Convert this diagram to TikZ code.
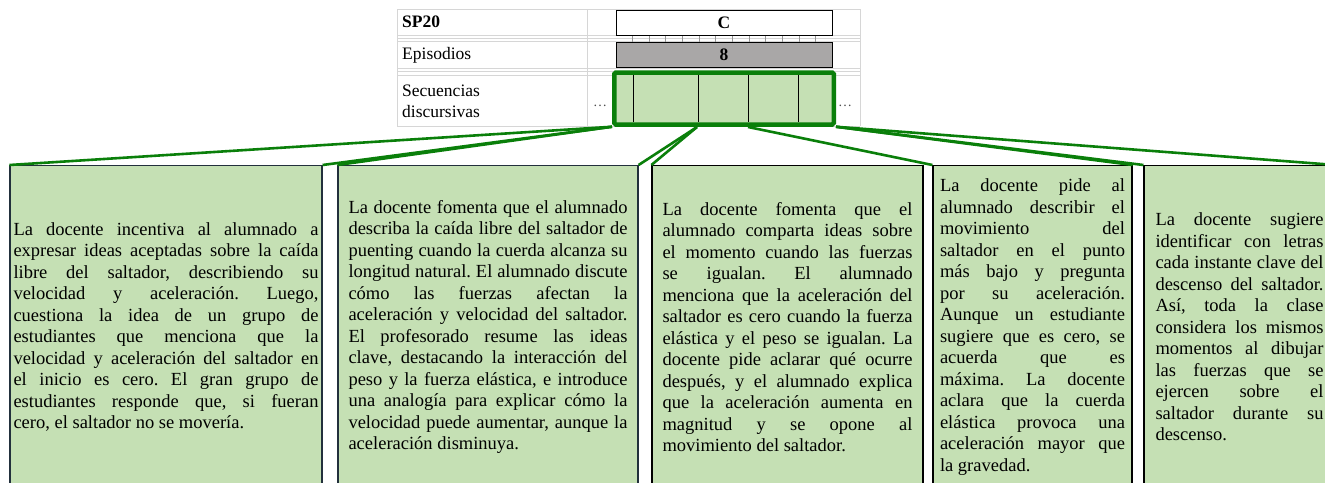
\documentclass[tikz,border=0pt]{standalone}
\usepackage{fontspec}
\setmainfont{Liberation Serif}

\definecolor{notefill}{HTML}{C5E0B4}
\definecolor{linkgreen}{HTML}{0A7F0A}
\definecolor{gridgray}{HTML}{D6D6D6}
\definecolor{epgray}{HTML}{A9A7A7}
\definecolor{noteline}{HTML}{22303C}

\hyphenpenalty=10000
\tolerance=10000
\frenchspacing

\begin{document}
\begin{tikzpicture}[x=1pt, y=-1pt,
    note/.style={draw=noteline, fill=notefill, line width=1.2pt, anchor=north,
      minimum height=323pt, inner ysep=0pt, align=justify,
      font=\fontsize{18.5}{21.5}\selectfont},
    link/.style={draw=linkgreen, line width=2.6pt},
    cell/.style={anchor=west, inner sep=0pt, align=left, font=\fontsize{17.5}{21}\selectfont},
    bar/.style={draw=black, line width=1pt, minimum width=216pt, minimum height=25pt,
      inner sep=0pt, font=\fontsize{17.5}{21}\selectfont\bfseries}]

    \useasboundingbox (0,0) rectangle (1325,482);

    % Tabla
    \foreach \y in {9.3,35,38.3,41.7,68.3,71.7,75,126}
        \draw[gridgray, line width=1pt] (397,\y) -- (860,\y);
    \foreach \x in {397,587,860}
        \draw[gridgray, line width=1pt] (\x,9.3) -- (\x,126);
    \foreach \i in {0,...,11}
        \draw[gridgray!70!black, line width=0.8pt] ({632.3+16.67*\i},35) -- ({632.3+16.67*\i},41.7);

    \node[cell, font=\fontsize{17.5}{21}\selectfont\bfseries] (sp) at (402,22) {SP20};
    \node[cell] (ep) at (402,55) {Episodios};
    \node[cell] (sd) at (402,101.5) {Secuencias\\discursivas};

    \node[bar, fill=white] (sc) at (724,22.5) {C};
    \node[bar, fill=epgray] (ep8) at (724,54.5) {8};

    % Secuencias discursivas
    \node[draw=linkgreen, line width=4.5pt, fill=notefill, rounded corners=1.5pt,
        minimum width=219.5pt, minimum height=52pt, inner sep=0pt] (sec) at (724,98.5) {};
    \foreach \x in {633,698,748,798}
        \draw[line width=1pt] (\x,75) -- (\x,122);
    \node[font=\fontsize{14}{14}\selectfont, text=black!70, inner sep=0pt] (dl) at (600,106) {…};
    \node[font=\fontsize{14}{14}\selectfont, text=black!70, inner sep=0pt] (dr) at (845,106) {…};

    \coordinate (s2) at (697,127);
    \coordinate (s3) at (748,127);

    % Descripciones
    \node[note, text width=305pt, inner xsep=3.5pt] (b1) at (166,165) {La docente incentiva al alumnado a\linebreak
        expresar ideas aceptadas sobre la caída\linebreak
        libre del saltador, describiendo su\linebreak
        velocidad y aceleración. Luego,\linebreak
        cuestiona la idea de un grupo de\linebreak
        estudiantes que menciona que la\linebreak
        velocidad y aceleración del saltador en\linebreak
        el inicio es cero. El gran grupo de\linebreak
        estudiantes responde que, si fueran\linebreak
        cero, el saltador no se movería.};
    \node[note, text width=279pt, inner xsep=10.5pt] (b2) at (488,165) {La docente fomenta que el alumnado\linebreak
        describa la caída libre del saltador de\linebreak
        puenting cuando la cuerda alcanza su\linebreak
        longitud natural. El alumnado discute\linebreak
        cómo las fuerzas afectan la\linebreak
        aceleración y velocidad del saltador.\linebreak
        El profesorado resume las ideas\linebreak
        clave, destacando la interacción del\linebreak
        peso y la fuerza elástica, e introduce\linebreak
        una analogía para explicar cómo la\linebreak
        velocidad puede aumentar, aunque la\linebreak
        aceleración disminuya.};
    \node[note, draw=black, text width=250pt, inner xsep=10.5pt] (b3) at (787.5,165) {La docente fomenta que el\linebreak
        alumnado comparta ideas sobre\linebreak
        el momento cuando las fuerzas\linebreak
        se igualan. El alumnado\linebreak
        menciona que la aceleración del\linebreak
        saltador es cero cuando la fuerza\linebreak
        elástica y el peso se igualan. La\linebreak
        docente pide aclarar qué ocurre\linebreak
        después, y el alumnado explica\linebreak
        que la aceleración aumenta en\linebreak
        magnitud y se opone al\linebreak
        movimiento del saltador.};
    \node[note, draw=black, text width=185pt, inner xsep=7pt] (b4) at (1032.5,165) {La docente pide al\linebreak
        alumnado describir el\linebreak
        movimiento del\linebreak
        saltador en el punto\linebreak
        más bajo y pregunta\linebreak
        por su aceleración.\linebreak
        Aunque un estudiante\linebreak
        sugiere que es cero, se\linebreak
        acuerda que es\linebreak
        máxima. La docente\linebreak
        aclara que la cuerda\linebreak
        elástica provoca una\linebreak
        aceleración mayor que\linebreak
        la gravedad.};
    \node[note, draw=black, text width=168pt, inner xsep=11.5pt] (b5) at (1239.5,165) {La docente sugiere\linebreak
        identificar con letras\linebreak
        cada instante clave del\linebreak
        descenso del saltador.\linebreak
        Así, toda la clase\linebreak
        considera los mismos\linebreak
        momentos al dibujar\linebreak
        las fuerzas que se\linebreak
        ejercen sobre el\linebreak
        saltador durante su\linebreak
        descenso.};

    % Conexiones
    \draw[link] (sec.south west) -- (b1.north west);
    \draw[link] (sec.south west) -- (b1.north east);
    \draw[link] (sec.south west) -- (b2.north west);
    \draw[link] (s2) -- (b2.north east);
    \draw[link] (s2) -- (b3.north west);
    \draw[link] (s3) -- (b4.north west);
    \draw[link] (sec.south east) -- (b4.north east);
    \draw[link] (sec.south east) -- (b5.north west);
    \draw[link] (sec.south east) -- (b5.north east);

\end{tikzpicture}
\end{document}
